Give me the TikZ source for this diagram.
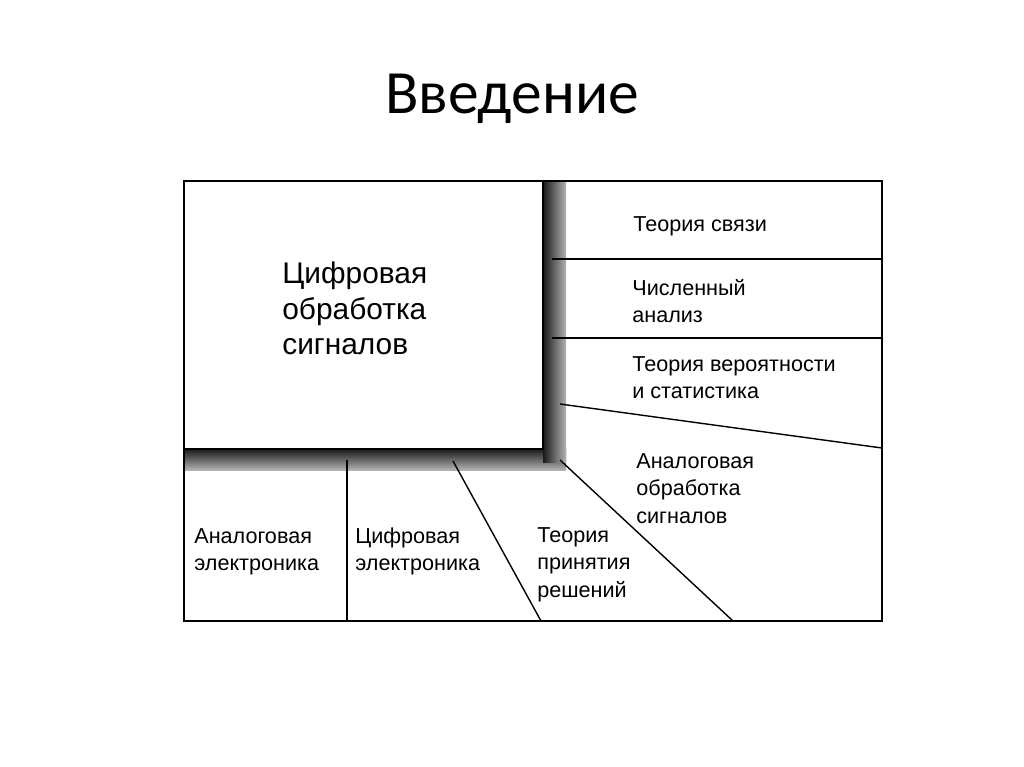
\documentclass[tikz,border=0pt]{standalone}
\usepackage{fontspec}
\setmainfont{Liberation Sans}
\newfontfamily\titlefont{Carlito}
\usepackage{tikz}

\begin{document}
\begin{tikzpicture}[x=0.02cm, y=-0.02cm,
    lbl/.style={anchor=north west, align=left, inner sep=0pt, font=\fontsize{12.3}{15.6}\selectfont},
    biglbl/.style={anchor=north west, align=left, inner sep=0pt, font=\fontsize{17}{20}\selectfont}]
    \useasboundingbox[fill=white] (0, 0) rectangle (1024, 767);
    \node[anchor=base] (title) at (512, 113) {\titlefont\fontsize{35}{42}\selectfont Введение};
    % shadow of the big box
    \shade[top color=black!90, bottom color=black!30] (184, 449) rectangle (566, 470);
    \shade[left color=black!90, right color=black!30] (543, 181) rectangle (566, 462);
    % frame and box
    \draw[line width=1.2pt] (184, 181) rectangle (882, 621);
    \draw[line width=1.2pt, fill=white] (184, 181) rectangle (543, 449);
    % right column
    \draw[thick] (552, 259) -- (882, 259);
    \draw[thick] (552, 338) -- (882, 338);
    \draw[thick] (560, 404) -- (882, 448);
    % bottom row
    \draw[thick] (347, 460) -- (347, 621);
    \draw[thick] (453, 461) -- (541, 621);
    \draw[thick] (560, 460) -- (733, 621);
    % labels
    \node[biglbl] (dsp) at (282, 262) {Цифровая\\обработка\\сигналов};
    \node[lbl] (comm) at (633, 216) {Теория связи};
    \node[lbl] (num) at (632, 279) {Численный\\анализ};
    \node[lbl] (prob) at (632, 356) {Теория вероятности\\и статистика};
    \node[lbl] (asp) at (636, 453) {Аналоговая\\обработка\\сигналов};
    \node[lbl] (dec) at (537, 527) {Теория\\принятия\\решений};
    \node[lbl] (ael) at (194, 528) {Аналоговая\\электроника};
    \node[lbl] (del) at (355, 527) {Цифровая\\электроника};
\end{tikzpicture}
\end{document}
